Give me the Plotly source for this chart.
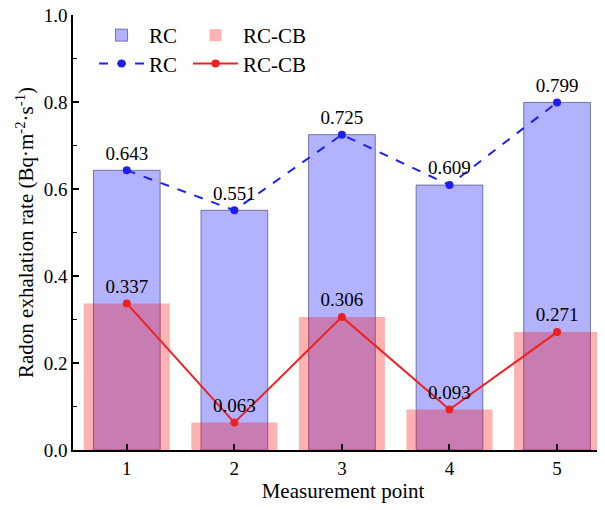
import plotly.graph_objects as go

points = ["1", "2", "3", "4", "5"]
x_pos = [1, 2, 3, 4, 5]
rc = [0.643, 0.551, 0.725, 0.609, 0.799]
rc_cb = [0.337, 0.063, 0.306, 0.093, 0.271]
y_ticks = [0.0, 0.2, 0.4, 0.6, 0.8, 1.0]
y_ticklabels = ["0.0", "0.2", "0.4", "0.6", "0.8", "1.0"]

FONT = "Liberation Serif, Times New Roman, serif"

fig = go.Figure()
fig.add_trace(go.Bar(
    x=x_pos, y=rc, name="RC", width=0.62,
    marker=dict(color="rgba(0,0,255,0.3)", line=dict(color="rgba(90,90,140,0.8)", width=1)),
    legend="legend2",
))
fig.add_trace(go.Bar(
    x=x_pos, y=rc_cb, name="RC-CB", width=0.8,
    marker=dict(color="rgba(255,0,0,0.3)", line=dict(width=0)),
    legend="legend3",
))
fig.add_trace(go.Scatter(
    x=x_pos, y=rc, name="RC", mode="lines+markers+text",
    line=dict(color="#2020ee", width=2, dash="dash"),
    marker=dict(color="#2020ee", size=8),
    text=[f"{v:.3f}" for v in rc], textposition="top center",
    textfont=dict(family=FONT, size=19, color="black"),
    legend="legend4",
))
fig.add_trace(go.Scatter(
    x=x_pos, y=rc_cb, name="RC-CB", mode="lines+markers+text",
    line=dict(color="#ee2020", width=2),
    marker=dict(color="#ee2020", size=8),
    text=[f"{v:.3f}" for v in rc_cb], textposition="top center",
    textfont=dict(family=FONT, size=19, color="black"),
    legend="legend5",
))

leg_common = dict(xanchor="left", yanchor="top", bgcolor="rgba(0,0,0,0)",
                  font=dict(size=21), itemwidth=45)

fig.update_layout(
    width=605, height=510,
    margin=dict(l=65, r=0, t=7, b=68),
    barmode="overlay",
    plot_bgcolor="white", paper_bgcolor="white",
    font=dict(family=FONT, size=19, color="black"),
    legend2=dict(x=0.039, y=1.0, **leg_common),
    legend3=dict(x=0.213, y=1.0, **leg_common),
    legend4=dict(x=0.039, y=0.935, **leg_common),
    legend5=dict(x=0.213, y=0.935, **leg_common),
    xaxis=dict(
        range=[0.5, 5.52], tickmode="array", tickvals=x_pos, ticktext=points,
        ticks="inside", ticklen=6, tickwidth=1.5, tickcolor="black",
        showline=True, linecolor="black", linewidth=1.5, showgrid=False, zeroline=False,
        title=dict(text="Measurement point", font=dict(size=21), standoff=4),
        tickfont=dict(size=19), automargin=False,
    ),
    yaxis=dict(
        range=[0, 1.0], tickmode="array", tickvals=y_ticks, ticktext=y_ticklabels,
        ticks="inside", ticklen=6, tickwidth=1.5, tickcolor="black",
        minor=dict(ticks="inside", ticklen=4, tickwidth=1.2, tickcolor="black", dtick=0.1, showgrid=False),
        showline=True, linecolor="black", linewidth=1.5, showgrid=False, zeroline=False,
        title=dict(text="Radon exhalation rate (Bq·m<sup>-2</sup>·s<sup>-1</sup>)", font=dict(size=21), standoff=4),
        tickfont=dict(size=19), automargin=False, ticklabeloverflow="allow",
    ),
)

fig.write_html("out.html")
